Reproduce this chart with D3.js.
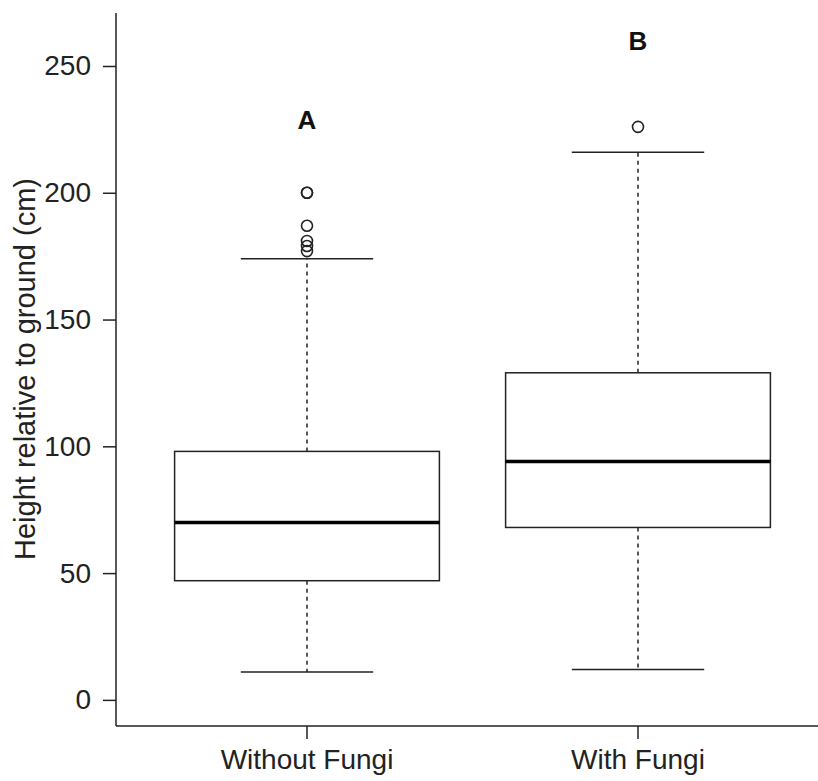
<!DOCTYPE html>
<html>
<head>
<meta charset="utf-8">
<script src="https://cdn.jsdelivr.net/npm/d3@7"></script>
<style>
  body { margin: 0; background: #fff; }
  .axis text { font-family: "Liberation Sans", Arial, sans-serif; font-size: 28px; fill: #222; }
  .axis path, .axis line { stroke: #222; stroke-width: 1.5px; }
</style>
</head>
<body>
<svg id="chart" width="818" height="781"></svg>
<script>
// groups and their box statistics (cm)
var groups = ["Without Fungi", "With Fungi"];
var whiskerLow = [11, 12];
var q1 = [47, 68];
var median = [70, 94];
var q3 = [98, 129];
var whiskerHigh = [174, 216];
var outliers = [[200, 200, 187, 181, 179, 177], [226]];
var letters = ["A", "B"];
var letterY = [229, 260];
var yTicks = [0, 50, 100, 150, 200, 250];

var svg = d3.select("#chart");

// set the ranges
var x = d3.scaleBand()
  .domain(groups)
  .range([141.5, 803.5])
  .padding(0);
var y = d3.scaleLinear()
  .domain([-10.3, 270.9])
  .range([726, 13]);

var bw = x.bandwidth();
var boxW = bw * 0.8;
var capW = bw * 0.4;
var cx = function(i) { return x(groups[i]) + bw / 2; };

var data = groups.map(function(g, i) {
  return { i: i, name: g, lo: whiskerLow[i], q1: q1[i], med: median[i],
           q3: q3[i], hi: whiskerHigh[i], out: outliers[i] };
});

// y axis
var yAxis = svg.append("g")
  .attr("class", "axis")
  .attr("transform", "translate(116,0)")
  .call(d3.axisLeft(y).tickValues(yTicks).tickSize(13).tickPadding(12).tickSizeOuter(0));
yAxis.select(".domain").attr("d", "M0," + y(-10.3) + "V" + y(270.9));

// x axis
var xAxis = svg.append("g")
  .attr("class", "axis")
  .attr("transform", "translate(0,726)")
  .call(d3.axisBottom(x).tickSize(13).tickPadding(10).tickSizeOuter(0));
xAxis.select(".domain").attr("d", "M116,0H818");

// y axis label
svg.append("text")
  .attr("transform", "translate(35," + y(130.5) + ") rotate(-90)")
  .attr("text-anchor", "middle")
  .style("font-family", "Liberation Sans, Arial, sans-serif")
  .style("font-size", "29px")
  .style("fill", "#222")
  .text("Height relative to ground (cm)");

var box = svg.selectAll(".box")
  .data(data)
  .enter().append("g")
  .attr("class", "box");

// dashed whiskers
box.append("line")
  .attr("x1", function(d) { return cx(d.i); })
  .attr("x2", function(d) { return cx(d.i); })
  .attr("y1", function(d) { return y(d.q3); })
  .attr("y2", function(d) { return y(d.hi); })
  .attr("stroke", "#222").attr("stroke-width", 1.5).attr("stroke-dasharray", "4,4");
box.append("line")
  .attr("x1", function(d) { return cx(d.i); })
  .attr("x2", function(d) { return cx(d.i); })
  .attr("y1", function(d) { return y(d.q1); })
  .attr("y2", function(d) { return y(d.lo); })
  .attr("stroke", "#222").attr("stroke-width", 1.5).attr("stroke-dasharray", "4,4");

// whisker caps
["lo", "hi"].forEach(function(k) {
  box.append("line")
    .attr("x1", function(d) { return cx(d.i) - capW / 2; })
    .attr("x2", function(d) { return cx(d.i) + capW / 2; })
    .attr("y1", function(d) { return y(d[k]); })
    .attr("y2", function(d) { return y(d[k]); })
    .attr("stroke", "#222").attr("stroke-width", 1.5);
});

// boxes
box.append("rect")
  .attr("x", function(d) { return cx(d.i) - boxW / 2; })
  .attr("width", boxW)
  .attr("y", function(d) { return y(d.q3); })
  .attr("height", function(d) { return y(d.q1) - y(d.q3); })
  .attr("fill", "#fff").attr("stroke", "#222").attr("stroke-width", 1.5);

// medians
box.append("line")
  .attr("x1", function(d) { return cx(d.i) - boxW / 2; })
  .attr("x2", function(d) { return cx(d.i) + boxW / 2; })
  .attr("y1", function(d) { return y(d.med); })
  .attr("y2", function(d) { return y(d.med); })
  .attr("stroke", "#000").attr("stroke-width", 3.5);

// outliers
box.selectAll("circle")
  .data(function(d) { return d.out.map(function(v) { return { i: d.i, v: v }; }); })
  .enter().append("circle")
  .attr("cx", function(d) { return cx(d.i); })
  .attr("cy", function(d) { return y(d.v); })
  .attr("r", 5.5)
  .attr("fill", "none").attr("stroke", "#222").attr("stroke-width", 1.6);

// significance letters
box.append("text")
  .attr("x", function(d) { return cx(d.i); })
  .attr("y", function(d) { return y(letterY[d.i]); })
  .attr("dy", "0.36em")
  .attr("text-anchor", "middle")
  .style("font-family", "Liberation Sans, Arial, sans-serif")
  .style("font-weight", "bold")
  .style("font-size", "26px")
  .style("fill", "#111")
  .text(function(d) { return letters[d.i]; });
</script>
</body>
</html>
